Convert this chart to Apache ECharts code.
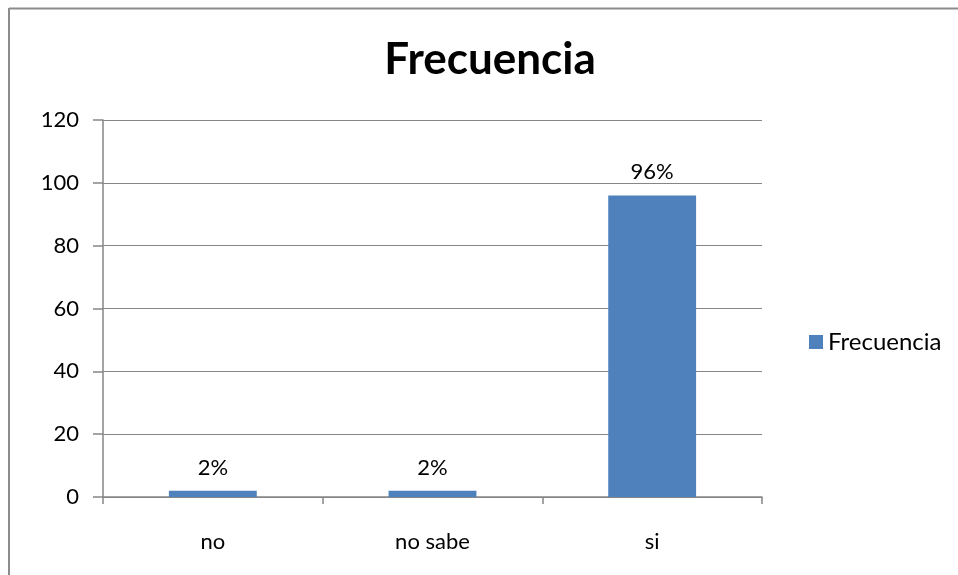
<!DOCTYPE html>
<html><head><meta charset="utf-8">
<script src="https://cdn.jsdelivr.net/npm/echarts@6/dist/echarts.min.js"></script>
<style>html,body{margin:0;padding:0;background:#fff}#c{width:958px;height:575px}</style>
</head><body><div id="c"></div>
<script>
const categories = ['no', 'no sabe', 'si'];
const frecuencia = [2, 2, 96];
const pctLabels = ['2%', '2%', '96%'];
const yTicks = [0, 20, 40, 60, 80, 100, 120];

const chart = echarts.init(document.getElementById('c'));
const font = 'Lato, "Open Sans", sans-serif';
chart.setOption({
  animation: false,
  title: { text: 'Frecuencia', left: 485, top: 33, textAlign: 'center',
    textStyle: { fontFamily: font, fontSize: 44, fontWeight: 'bold', color: '#000' } },
  legend: { data: ['Frecuencia'], left: 804, top: 325, icon: 'rect', itemWidth: 14, itemHeight: 14, itemGap: 5,
    textStyle: { fontFamily: font, fontSize: 24, color: '#000', padding: [0, 0, 0, 0] } },
  grid: { left: 103, right: 196, top: 120, bottom: 78, containLabel: false },
  graphic: [
    { type: 'line', shape: { x1: 9, y1: 8.5, x2: 958, y2: 8.5 }, style: { stroke: '#8c8c8c', lineWidth: 2 }, silent: true },
    { type: 'line', shape: { x1: 9, y1: 8, x2: 9, y2: 575 }, style: { stroke: '#8c8c8c', lineWidth: 2 }, silent: true }
  ],
  xAxis: { type: 'category', data: categories,
    axisLine: { lineStyle: { color: '#868686', width: 1.5 } },
    axisTick: { show: true, length: 7, alignWithLabel: false, lineStyle: { color: '#868686', width: 1.5 } },
    axisLabel: { margin: 34, fontFamily: font, fontSize: 22, color: '#000' } },
  yAxis: { type: 'value', min: yTicks[0], max: yTicks[yTicks.length - 1], interval: 20,
    axisLine: { show: true, lineStyle: { color: '#868686', width: 1.5 } },
    axisTick: { show: true, length: 10, lineStyle: { color: '#868686', width: 1.5 } },
    splitLine: { lineStyle: { color: '#868686', width: 1.2 } },
    axisLabel: { margin: 24, fontFamily: font, fontSize: 22, color: '#000' } },
  series: [{ name: 'Frecuencia', type: 'bar', data: frecuencia, barWidth: '40%',
    itemStyle: { color: '#4F81BD' },
    label: { show: true, position: 'top', distance: 12, fontFamily: font, fontSize: 22, color: '#000',
      formatter: p => pctLabels[p.dataIndex] } }]
});
</script></body></html>
